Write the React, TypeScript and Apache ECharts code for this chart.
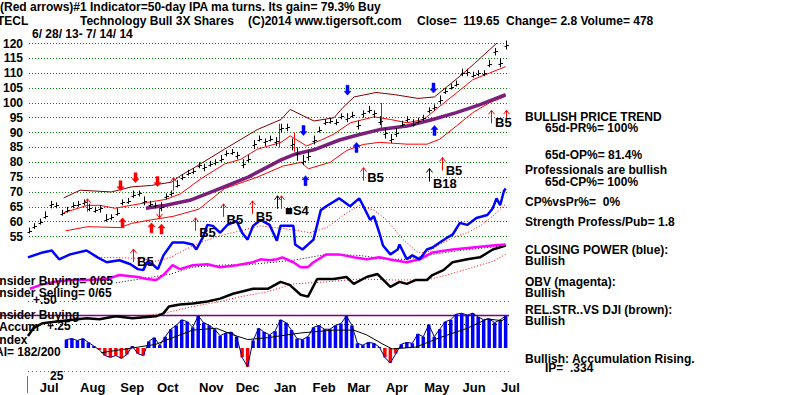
import React, { useEffect, useRef } from "react";
import * as echarts from "echarts";

// ---------- axis / label data ----------
const monthNames = ["Jul", "Aug", "Sep", "Oct", "Nov", "Dec", "Jan", "Feb", "Mar", "Apr", "May", "Jun", "Jul"];
const monthStartIdx = [1, 23, 45, 65, 88, 108, 129, 150, 169, 190, 211, 232, 253]; // trading-day index of 1st day of month
const lastIdx = 263;

// ---------- price (sampled every 3 trading days from 6/28/13) ----------
const priceStep = 3;
const closes = [57.0, 58.5, 60.0, 62.0, 66.0, 65.5, 63.0, 64.0, 65.5, 66.0,
  66.5, 64.5, 64.0, 64.5, 61.0, 61.5, 63.0, 66.5, 67.0, 69.0,
  69.5, 67.0, 66.0, 65.5, 65.0, 68.5, 69.5, 72.5, 75.0, 76.5,
  77.0, 79.0, 78.5, 79.5, 80.0, 81.0, 83.0, 83.5, 82.5, 79.5,
  81.0, 86.0, 88.0, 87.0, 88.0, 87.0, 91.5, 92.0, 86.0, 83.0,
  80.5, 82.0, 87.5, 91.0, 93.5, 94.0, 93.5, 95.5, 95.0, 96.0,
  92.5, 96.5, 97.5, 96.5, 94.0, 90.0, 88.0, 90.0, 93.0, 94.5,
  93.0, 94.0, 95.0, 97.5, 98.5, 101.0, 104.0, 105.5, 106.5, 110.0,
  110.5, 109.5, 110.0, 110.0, 113.0, 117.5, 113.5, 119.65];
const highs = [58.0, 59.5, 61.0, 63.5, 67.0, 66.5, 64.0, 65.0, 66.5, 67.0,
  67.5, 66.0, 65.0, 65.5, 62.5, 62.5, 64.5, 67.5, 68.0, 70.5,
  70.5, 68.5, 67.0, 66.5, 66.5, 69.5, 70.5, 74.0, 76.0, 77.5,
  78.0, 80.0, 79.5, 80.5, 81.0, 82.5, 84.0, 84.5, 83.5, 81.0,
  82.5, 87.5, 89.0, 88.0, 89.0, 88.5, 93.0, 93.0, 88.0, 85.0,
  82.5, 84.0, 89.0, 92.0, 94.5, 95.0, 94.5, 96.5, 96.5, 97.0,
  94.0, 97.5, 99.0, 97.5, 95.5, 91.5, 89.5, 91.5, 94.0, 95.5,
  94.5, 95.0, 96.0, 98.5, 99.5, 102.5, 105.0, 106.5, 107.5, 111.5,
  111.5, 110.5, 111.0, 111.0, 114.5, 118.5, 115.0, 121.0];
const lows = [56.0, 57.5, 59.0, 61.0, 64.5, 64.5, 62.0, 63.0, 64.5, 65.0,
  65.5, 63.5, 63.0, 63.0, 60.0, 60.5, 62.0, 65.5, 66.0, 68.0,
  68.5, 65.5, 65.0, 64.5, 63.5, 67.5, 68.5, 71.5, 74.0, 75.5,
  76.0, 78.0, 77.0, 78.5, 79.0, 80.0, 82.0, 82.5, 81.0, 78.0,
  80.0, 84.5, 87.0, 85.5, 87.0, 85.5, 90.0, 90.5, 84.0, 80.5,
  79.0, 80.5, 86.0, 90.0, 92.5, 93.0, 92.5, 94.5, 93.5, 95.0,
  91.0, 95.0, 96.5, 95.0, 92.5, 88.0, 86.5, 88.5, 92.0, 93.5,
  92.0, 93.0, 94.0, 96.5, 97.5, 99.5, 103.0, 104.5, 105.5, 109.0,
  109.0, 108.5, 109.0, 109.0, 112.0, 116.0, 112.0, 118.0];

// bands and moving average  [tradingDayIdx, price]
const upperBand = [[19, 68], [28, 70.6], [45, 70], [56, 71.7], [67, 72.2], [78, 73.3], [83, 75.5], [90, 78], [107, 84.4], [125, 91], [138, 94.4], [143, 97.8], [156, 93.9], [167, 95], [172, 98.5], [178, 102], [190, 103.5], [200, 102.8], [213, 101.5], [222, 102], [229, 105.5], [236, 109], [244, 113.3], [252, 117.8], [261, 122.8]];
const midLine = [[19, 63], [32, 65.5], [39, 65.5], [47, 64.5], [56, 65.5], [65, 66.5], [75, 67.5], [83, 69.4], [94, 74.4], [107, 79.4], [116, 81], [125, 84.4], [138, 86.7], [143, 88.9], [152, 85.5], [160, 87.5], [167, 89.5], [176, 93.3], [189, 95.3], [198, 94.4], [207, 93.3], [216, 94.4], [225, 98.9], [234, 103.3], [243, 107.8], [252, 110], [261, 112.2]];
const lowerBand = [[20, 56.9], [32, 58.3], [50, 58], [56, 59.4], [67, 60.6], [79, 61.8], [93, 64.2], [107, 71.1], [125, 75], [139, 78.7], [149, 80], [153, 77.8], [165, 80], [174, 84], [183, 86], [192, 86.7], [207, 86.1], [218, 86.1], [225, 87.8], [234, 92.2], [243, 96.7], [252, 100], [261, 102.2]];
const ma50 = [[64, 64.5], [75, 65.5], [88, 67.2], [101, 70.3], [120, 75], [138, 80.8], [146, 82.8], [156, 84.2], [170, 87.5], [180, 89.2], [192, 91], [207, 92.2], [221, 94.4], [234, 96.7], [247, 99.4], [261, 102.8]];

// signal arrows [idx, tip price]
const thinRedUp = [[32, 67.7], [79, 74.8], [57, 50.8], [91, 61.3], [106, 66], [122, 67], [138, 68.7], [183, 78.2], [226, 81.6], [253, 97.5], [261, 97.5]];
const thinBlackUp = [[219, 77.9], [136, 68.7]];
const thinRedDown = [[71, 61.3]];
const thickRedUp = [[51, 61.3], [67, 59.6], [72, 59.2]];
const thickRedDown = [[50, 70.4], [58, 73.1], [70, 71.8]];
const thickBlueUp = [[151, 75.5], [179, 86.7], [222, 92.4]];
const thickBlueDown = [[150, 89], [174, 102.6], [221, 103.3]];
const signalTexts = ["B5", "B5", "B5", "B5", "\u25A0S4", "B5", "B18", "B5", "B5"];
const signalPos = [[57, 46.7], [91, 56.5], [106, 60.6], [122, 61.6], [138, 63.6], [183, 74.8], [219, 73], [226, 77.2], [253, 93.4]];
const redMarks = [[137, 93, 85], [145, 90, 83.5], [193, 100, 91]];

// ---------- indicator panel (arbitrary units, 0 = bottom of panel) ----------
const closingPower = [[0, 140], [8, 145], [13, 147], [17, 138], [23, 143], [32, 147], [38, 140], [43, 135], [50, 137], [56, 133], [60, 128], [63, 127], [65, 135], [68, 133], [71, 128], [74, 142], [79, 155], [85, 155], [90, 153], [92, 148], [96, 162], [98, 173], [101, 172], [105, 165], [109, 173], [114, 177], [117, 165], [120, 158], [123, 172], [127, 178], [132, 173], [136, 157], [138, 172], [145, 172], [146, 153], [150, 148], [156, 158], [160, 188], [163, 192], [170, 200], [176, 192], [181, 200], [183, 193], [187, 178], [189, 182], [192, 165], [194, 152], [198, 143], [202, 148], [203, 153], [207, 138], [210, 142], [214, 138], [218, 148], [221, 150], [225, 155], [229, 160], [232, 163], [236, 175], [240, 173], [245, 180], [251, 183], [254, 190], [256, 200], [258, 193], [260, 207], [261, 210]];
const closingPowerMa = [[40, 140], [60, 139], [70, 136], [78, 140], [86, 148], [94, 155], [105, 162], [116, 167], [127, 172], [145, 168], [154, 165], [163, 170], [174, 185], [181, 193], [189, 188], [196, 178], [205, 158], [213, 145], [218, 145], [225, 153], [232, 160], [240, 165], [247, 172], [254, 182], [261, 194]];
const obv = [[1, 108], [7, 112], [14, 115], [23, 117], [32, 117], [43, 118], [50, 122], [60, 120], [65, 118], [70, 117], [74, 122], [79, 132], [83, 128], [90, 132], [98, 133], [105, 130], [114, 132], [123, 135], [127, 138], [132, 137], [136, 138], [139, 140], [145, 135], [149, 130], [153, 130], [156, 135], [163, 143], [170, 143], [178, 140], [185, 138], [192, 140], [200, 137], [207, 135], [214, 138], [221, 145], [232, 148], [243, 150], [254, 152], [261, 153]];
const obvMa = [[48, 114], [78, 123], [90, 130], [105, 132], [123, 133], [145, 137], [163, 143], [181, 142], [196, 138], [207, 138], [221, 143], [236, 147], [261, 152]];
const relStrength = [[0, 60], [3, 68], [8, 73], [17, 75], [32, 78], [39, 77], [48, 80], [57, 78], [70, 80], [74, 83], [77, 90], [83, 92], [90, 93], [98, 95], [105, 98], [112, 103], [123, 108], [131, 108], [138, 115], [143, 112], [149, 102], [153, 100], [158, 118], [167, 118], [174, 120], [178, 113], [185, 120], [191, 123], [198, 110], [203, 115], [207, 113], [212, 117], [218, 117], [221, 122], [227, 127], [232, 135], [240, 138], [247, 140], [254, 148], [261, 152]];
const relStrengthMa = [[60, 80], [74, 83], [90, 90], [105, 95], [116, 100], [131, 105], [145, 113], [163, 115], [181, 118], [199, 117], [218, 117], [229, 122], [240, 128], [254, 136], [261, 143]];

// ---------- accumulation index ----------
const aiStartIdx = 21;
const aiValues = [0.09, 0.1, 0.08, 0.1, 0.06, 0.02, -0.02, -0.08, -0.1, -0.08,
  -0.11, -0.07, 0.02, -0.06, -0.08, 0.07, 0.11, 0.03, 0.12, 0.2,
  0.24, 0.3, 0.28, 0.22, 0.34, 0.27, 0.24, 0.2, 0.13, 0.16,
  0.17, 0.12, -0.1, -0.2, 0.08, 0.21, 0.17, 0.14, 0.18, 0.3,
  0.27, 0.19, 0.1, 0.09, 0.12, 0.22, 0.24, 0.2, 0.2, 0.24,
  0.26, 0.34, 0.24, 0.05, 0.03, 0.06, 0.05, 0.01, -0.1, -0.16,
  -0.06, 0.04, 0.06, 0.05, 0.15, 0.12, 0.25, 0.12, 0.2, 0.28,
  0.3, 0.36, 0.37, 0.35, 0.37, 0.33, 0.3, 0.31, 0.27, 0.3, 0.34];
const aiMa = [[40, -0.05], [57, 0], [70, 0.04], [79, 0.11], [90, 0.19], [103, 0.21], [112, 0.14], [120, 0.09], [131, 0.11], [149, 0.16], [167, 0.19], [178, 0.19], [185, 0.14], [194, 0.04], [199, -0.01], [212, 0.01], [225, 0.11], [240, 0.21], [251, 0.31], [259, 0.29], [261, 0.32]];
const aiLevels = [0.5, 0.25, -0.25];

const FONT = '"Liberation Sans", Arial, sans-serif';
const NARROW = '"Liberation Sans Narrow", "Arial Narrow", "Liberation Sans", sans-serif';
const BOLD12 = `bold 12px ${FONT}`;

const ARROW_KINDS = [
  { thick: false, up: true, color: "#ff0000" },
  { thick: false, up: true, color: "#000000" },
  { thick: false, up: false, color: "#ff0000" },
  { thick: true, up: true, color: "#ff0000" },
  { thick: true, up: false, color: "#ff0000" },
  { thick: true, up: true, color: "#0000ff" },
  { thick: true, up: false, color: "#0000ff" },
];

function buildOption(): any {
  const priceData = closes.map((c, i) => [i * priceStep, c, lows[i], highs[i]]);
  const arrowData: number[][] = [];
  [thinRedUp, thinBlackUp, thinRedDown, thickRedUp, thickRedDown, thickBlueUp, thickBlueDown].forEach((arr, k) =>
    arr.forEach((a) => arrowData.push([a[0], a[1], k]))
  );
  const aiData = aiValues.map((v, i) => [aiStartIdx + i * priceStep, v]);

  const gridBox = { left: 28, width: 481.3 };
  const xAxes = [0, 1, 2, 3].map((g) => ({
    type: "value",
    gridIndex: g,
    min: 0,
    max: lastIdx,
    show: g === 3,
    axisLine: { show: false },
    axisTick: { show: false },
    splitLine: { show: false },
    axisLabel: g === 3 ? {
      customValues: monthStartIdx,
      formatter: (v: number) => {
        const i = monthStartIdx.indexOf(v);
        return i >= 0 ? monthNames[i] : "";
      },
      align: "left",
      padding: [0, 0, 0, 10],
      margin: 3,
      color: "#000",
      fontWeight: "bold",
      fontSize: 13,
      fontFamily: NARROW,
    } : { show: false },
  }));

  const line = (data: any, color: string, width: number, grid: number, type: any = "solid", z = 2) => ({
    type: "line",
    xAxisIndex: grid,
    yAxisIndex: grid,
    data,
    showSymbol: false,
    symbol: "none",
    silent: true,
    z,
    lineStyle: { color, width, type },
  });

  const texts: any[] = [
    ["(Red arrows)#1 Indicator=50-day IPA ma turns. Its gain= 79.3% Buy", 0, 7],
    ["TECL", -3, 21],
    ["Technology Bull 3X Shares", 80, 21],
    ["(C)2014 www.tigersoft.com", 248, 21],
    ["Close=  119.65  Change= 2.8 Volume= 478", 417, 21],
    ["6/ 28/ 13- 7/ 14/ 14", 32, 34],
    ["BULLISH PRICE TREND", 525, 117],
    ["65d-PR%= 100%", 545, 128],
    ["65d-OP%= 81.4%", 545, 155],
    ["Professionals are bullish", 525, 170],
    ["65d-CP%= 100%", 545, 182],
    ["CP%vsPr%=  0%", 525, 202],
    ["Strength Profess/Pub= 1.8", 525, 222],
    ["CLOSING POWER (blue):", 525, 250],
    ["Bullish", 525, 261],
    ["OBV (magenta):", 525, 282],
    ["Bullish", 525, 293],
    ["REL.STR..VS DJI (brown):", 525, 310],
    ["Bullish", 525, 321],
    ["Bullish: Accumulation Rising.", 525, 359],
    ["IP=  .334", 545, 368],
    ["Insider Buying= 0/65", -4, 281],
    ["Insider Selling= 0/65", -4, 293],
    ["+.50", 33, 300],
    ["Insider Buying", -4, 315],
    ["Accum", -1, 327],
    ["+.25", 47, 326],
    ["Index", -4, 340],
    ["AI= 182/200", -5, 352],
    ["25", 50, 376],
  ].map(([t, x, y]) => ({
    type: "text",
    x,
    y,
    z: 100,
    silent: true,
    style: { text: t, fill: "#000", font: BOLD12, verticalAlign: "middle" },
  }));

  return {
    animation: false,
    backgroundColor: "#ffffff",
    grid: [
      { ...gridBox, top: 43.5, height: 193 },
      { ...gridBox, top: 100, height: 300 },
      { ...gridBox, top: 301, height: 100 },
      { ...gridBox, top: 360, height: 18 },
    ],
    xAxis: xAxes,
    yAxis: [
      {
        type: "value", gridIndex: 0, min: 55, max: 120, interval: 5,
        axisLine: { show: false }, axisTick: { show: false },
        axisLabel: { margin: 6, color: "#000", fontWeight: "bold", fontSize: 12, fontFamily: FONT },
        splitLine: { show: true, lineStyle: { color: "#008000", type: [1, 2], width: 1 } },
      },
      { type: "value", gridIndex: 1, min: 0, max: 300, show: false, splitLine: { show: false } },
      { type: "value", gridIndex: 2, min: -0.5, max: 0.5, show: false, splitLine: { show: false } },
      { type: "value", gridIndex: 3, show: false, splitLine: { show: false } },
    ],
    graphic: [
      ...texts,
      { type: "line", silent: true, z: 5, shape: { x1: 0, y1: 315.5, x2: 509, y2: 315.5 }, style: { stroke: "#800080", lineWidth: 1.5 } },
      { type: "line", silent: true, z: 5, shape: { x1: 27.5, y1: 376, x2: 27.5, y2: 393 }, style: { stroke: "#808000", lineWidth: 1 } },
    ],
    series: [
      line(upperBand, "#800000", 1, 0),
      line(midLine, "#ff0000", 1, 0),
      line(lowerBand, "#ff0000", 1, 0),
      line(ma50, "#7a1f7a", 3.5, 0, "solid", 3),
      {
        type: "custom",
        xAxisIndex: 0, yAxisIndex: 0, z: 4, silent: true, clip: false,
        data: redMarks,
        encode: { x: 0, y: 1 },
        renderItem: (params: any, api: any) => {
          const a = api.coord([api.value(0), api.value(1)]);
          const b = api.coord([api.value(0), api.value(2)]);
          const x = Math.round(a[0]) + 0.5;
          return { type: "line", shape: { x1: x, y1: a[1], x2: x, y2: b[1] }, style: { stroke: "#ff0000", lineWidth: 1 } };
        },
      },
      {
        type: "custom",
        xAxisIndex: 0, yAxisIndex: 0, z: 5, silent: true, clip: false,
        data: priceData,
        encode: { x: 0, y: [1, 2, 3] },
        renderItem: (params: any, api: any) => {
          const xi = api.value(0);
          const pc = api.coord([xi, api.value(1)]);
          const pl = api.coord([xi, api.value(2)]);
          const ph = api.coord([xi, api.value(3)]);
          const x = Math.round(pc[0]) + 0.5;
          const yc = Math.round(pc[1]) + 0.5;
          return {
            type: "group",
            children: [
              { type: "line", shape: { x1: x, y1: pl[1], x2: x, y2: ph[1] }, style: { stroke: "#000", lineWidth: 1 } },
              { type: "line", shape: { x1: x, y1: yc, x2: x + 2.5, y2: yc }, style: { stroke: "#000", lineWidth: 1 } },
              { type: "line", shape: { x1: x - 2, y1: yc + 1, x2: x, y2: yc + 1 }, style: { stroke: "#000", lineWidth: 1 } },
            ],
          };
        },
      },
      {
        type: "custom",
        xAxisIndex: 0, yAxisIndex: 0, z: 20, silent: true, clip: false,
        data: arrowData,
        encode: { x: 0, y: 1 },
        renderItem: (params: any, api: any) => {
          const p = api.coord([api.value(0), api.value(1)]);
          const k = ARROW_KINDS[api.value(2)];
          const x = Math.round(p[0]) + 0.5;
          const y = p[1];
          const d = k.up ? 1 : -1;
          if (!k.thick) {
            return {
              type: "group",
              children: [
                { type: "line", shape: { x1: x, y1: y, x2: x, y2: y + d * 13 }, style: { stroke: k.color, lineWidth: 1 } },
                { type: "polyline", shape: { points: [[x - 3, y + d * 4], [x, y], [x + 3, y + d * 4]] }, style: { stroke: k.color, lineWidth: 1, fill: null } },
              ],
            };
          }
          return {
            type: "polygon",
            shape: {
              points: [[x, y], [x - 3.5, y + d * 4], [x - 1.5, y + d * 4], [x - 1.5, y + d * 10], [x + 1.5, y + d * 10], [x + 1.5, y + d * 4], [x + 3.5, y + d * 4]],
            },
            style: { fill: k.color, stroke: k.color, lineWidth: 0.5 },
          };
        },
      },
      {
        type: "custom",
        xAxisIndex: 0, yAxisIndex: 0, z: 21, silent: true, clip: false,
        data: signalPos,
        encode: { x: 0, y: 1 },
        renderItem: (params: any, api: any) => {
          const p = api.coord([api.value(0), api.value(1)]);
          return {
            type: "text",
            x: p[0] + 4,
            y: p[1],
            style: { text: signalTexts[params.dataIndex], fill: "#000", font: `bold 13px ${FONT}`, verticalAlign: "middle" },
          };
        },
      },
      // indicator panel
      line(relStrengthMa, "#ff0000", 1, 1, [1, 2], 6),
      line(relStrength, "#000000", 2.5, 1, "solid", 7),
      line(obvMa, "#000000", 1, 1, [1, 2], 6),
      line(obv, "#ff00ff", 2.5, 1, "solid", 8),
      line(closingPowerMa, "#ff0000", 1, 1, [1, 2], 6),
      line(closingPower, "#0000ff", 2.5, 1, "solid", 9),
      // accumulation index
      {
        type: "bar",
        xAxisIndex: 2, yAxisIndex: 2, z: 6, silent: true,
        data: aiData,
        barWidth: 3.5,
        itemStyle: { color: (p: any) => (p.value[1] >= 0 ? "#0000ff" : "#ff0000") },
        markLine: {
          silent: true,
          symbol: "none",
          label: { show: false },
          data: aiLevels.map((v, i) => ({
            yAxis: v,
            lineStyle: { color: i === 1 ? "#000000" : "#c04040", type: [1, 3], width: 1 },
          })),
        },
      },
      line(aiData, "#000080", 1, 2, "solid", 7),
      line(aiMa, "#000000", 1, 2, "solid", 8),
    ],
  };
}

export default function App() {
  const ref = useRef<HTMLDivElement>(null);
  useEffect(() => {
    if (!ref.current) return;
    const chart = echarts.init(ref.current, null, { renderer: "svg" });
    chart.setOption(buildOption());
    return () => chart.dispose();
  }, []);
  return (
    <div
      ref={ref}
      style={{ position: "fixed", left: 0, top: 0, width: 795, height: 395, background: "#fff" }}
    />
  );
}
